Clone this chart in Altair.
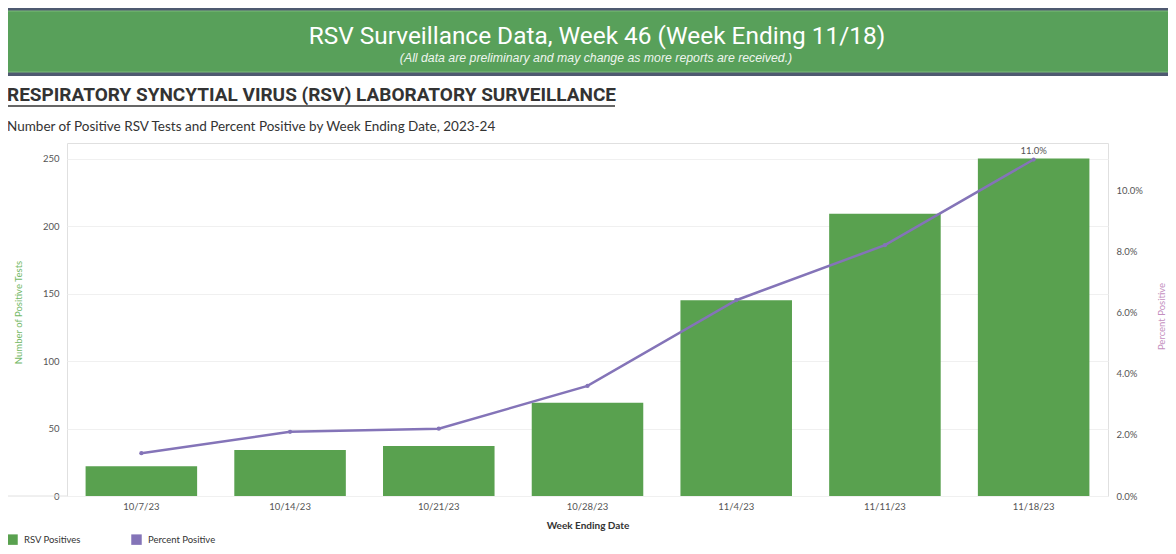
import altair as alt
import pandas as pd

dates = ['10/7/23', '10/14/23', '10/21/23', '10/28/23', '11/4/23', '11/11/23', '11/18/23']
positives = [22, 34, 37, 69, 145, 209, 250]
pct_positive = [1.4, 2.1, 2.2, 3.6, 6.4, 8.2, 11.0]
series_names = ['RSV Positives', 'Percent Positive']

banner_title = 'RSV Surveillance Data, Week 46 (Week Ending 11/18)'
banner_sub = '(All data are preliminary and may change as more reports are received.)'
heading = 'RESPIRATORY SYNCYTIAL VIRUS (RSV) LABORATORY SURVEILLANCE'
subheading = 'Number of Positive RSV Tests and Percent Positive by Week Ending Date, 2023-24'

GREEN = '#59a14f'
PURPLE = '#8474b8'
FONT = 'Lato'
TITLEFONT = 'Roboto'

df = pd.DataFrame({'date': dates, 'positives': positives, 'pct': pct_positive})
one = alt.Data(values=[{}])

W, H = 1041, 353

dark_top = alt.Chart(one).mark_rect(color='#4e5970').encode(
    x=alt.value(-59), x2=alt.value(1101), y=alt.value(-135), y2=alt.value(-67))
banner = alt.Chart(one).mark_rect(color='#58a05a', stroke='#7dbb7a', strokeWidth=1).encode(
    x=alt.value(-62), x2=alt.value(1104), y=alt.value(-132), y2=alt.value(-71))

t_banner = alt.Chart(one).mark_text(text=banner_title, font=TITLEFONT, fontSize=24.4, color='white',
                                    align='center', baseline='middle').encode(
    x=alt.value(530), y=alt.value(-106))
t_banner_sub = alt.Chart(one).mark_text(text=banner_sub, font='Liberation Sans', fontSize=12.3,
                                        fontStyle='italic', color='#eef5ee', align='center',
                                        baseline='middle').encode(
    x=alt.value(529), y=alt.value(-85))
t_heading = alt.Chart(one).mark_text(text=heading, font=TITLEFONT, fontSize=19, fontWeight='bold',
                                     color='#333333', align='left', baseline='middle').encode(
    x=alt.value(-60), y=alt.value(-48))
underline = alt.Chart(one).mark_rule(color='#333333', strokeWidth=1.5).encode(
    x=alt.value(-60), x2=alt.value(548), y=alt.value(-37))
t_sub = alt.Chart(one).mark_text(text=subheading, font=FONT, fontSize=13.5, color='#333333',
                                 align='left', baseline='middle').encode(
    x=alt.value(-60), y=alt.value(-16))
base_line = alt.Chart(one).mark_rule(color='#e0e0e0').encode(
    x=alt.value(-67), x2=alt.value(0), y=alt.value(H))

base = alt.Chart(df)
x_enc = alt.X('date:N', sort=dates, title='Week Ending Date',
              scale=alt.Scale(paddingInner=0.25, paddingOuter=0.125),
              axis=alt.Axis(labelAngle=0, labelFont=FONT, labelFontSize=9.5, labelColor='#555555',
                            labelPadding=5, ticks=False, domain=False,
                            titleFont=FONT, titleFontSize=10, titleFontWeight='bold',
                            titleColor='#333333', titleY=29, titleBaseline='middle'))

bars = base.transform_calculate(series="'RSV Positives'").mark_bar().encode(
    x=x_enc,
    y=alt.Y('positives:Q', title='Number of Positive Tests',
            scale=alt.Scale(domain=[0, 261.5], nice=False),
            axis=alt.Axis(values=[0, 50, 100, 150, 200, 250], grid=True, gridColor='#f0f0f0',
                          ticks=False, domain=False, labelFont=FONT, labelFontSize=9.5,
                          labelColor='#555555', labelPadding=8,
                          titleFont=FONT, titleFontSize=9.5, titleFontWeight='normal',
                          titleColor='#72b865', titleX=-49, titleY=169, titleAngle=-90,
                          titleBaseline='middle', titleAlign='center')),
    color=alt.Color('series:N',
                    scale=alt.Scale(domain=series_names, range=[GREEN, PURPLE]),
                    legend=alt.Legend(title=None, orient='none', legendX=-60, legendY=391,
                                      direction='horizontal', symbolType='square', symbolSize=110,
                                      symbolStrokeWidth=0, labelFont=FONT, labelFontSize=9.5,
                                      labelColor='#333333', columnPadding=50, labelOffset=6)),
)

y_right = alt.Y('pct:Q', title='Percent Positive',
                scale=alt.Scale(domain=[0, 11.54], nice=False),
                axis=alt.Axis(orient='right', values=[0, 2, 4, 6, 8, 10], grid=False,
                              ticks=False, domain=False,
                              labelExpr="format(datum.value, '.1f') + '%'",
                              labelFont=FONT, labelFontSize=9.5, labelColor='#555555',
                              labelPadding=8, titleFont=FONT, titleFontSize=9.5,
                              titleFontWeight='normal', titleColor='#c48fc0',
                              titleX=53, titleY=173, titleAngle=-90, titleBaseline='middle',
                              titleAlign='center'))

line = base.mark_line(color=PURPLE, strokeWidth=2.5,
                      point=alt.OverlayMarkDef(color=PURPLE, size=18, filled=True)).encode(
    x=alt.X('date:N', sort=dates), y=y_right)

last_label = base.transform_filter(alt.datum.date == dates[-1]).transform_calculate(
    lab="format(datum.pct, '.1f') + '%'").mark_text(
    font=FONT, fontSize=9.5, color='#555555', dy=-9, baseline='middle').encode(
    x=alt.X('date:N', sort=dates),
    y=alt.Y('pct:Q', scale=alt.Scale(domain=[0, 11.54], nice=False)),
    text='lab:N')

line_group = alt.layer(line, last_label)

chart = alt.layer(
    dark_top, banner, t_banner, t_banner_sub, t_heading, underline, t_sub, base_line,
    bars, line_group
).resolve_scale(y='independent').properties(
    width=W, height=H,
    background='white',
    padding={'left': 59, 'top': 135, 'right': 60, 'bottom': 50},
    autosize=alt.AutoSizeParams(type='none'),
).configure_view(stroke='#e0e0e0')

chart.save('out.html', embed_options={'renderer': 'svg', 'actions': False})
